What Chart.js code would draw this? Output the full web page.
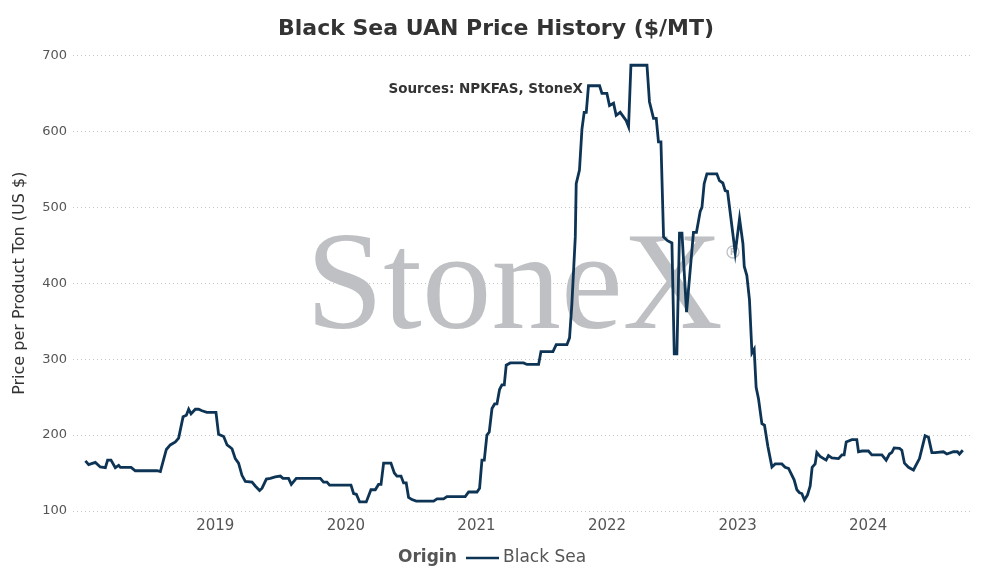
<!DOCTYPE html>
<html>
<head>
<meta charset="utf-8">
<title>Black Sea UAN Price History</title>
<script src="https://cdn.jsdelivr.net/npm/chart.js@4.4.1/dist/chart.umd.min.js"></script>
<style>
    html, body { margin: 0; padding: 0; background: #ffffff; }
    #wrap { width: 989px; height: 579px; position: relative; }
</style>
</head>
<body>
<div id="wrap"><canvas id="uanChart"></canvas></div>
<script>
// -------------------------------------------------
// Data (decimal years / $ per MT)
// -------------------------------------------------
const dates = [
    2018.005, 2018.030, 2018.081, 2018.119, 2018.158, 2018.175, 2018.201, 2018.234, 2018.260, 2018.273,
    2018.355, 2018.387, 2018.554, 2018.579, 2018.625, 2018.655, 2018.694, 2018.719, 2018.753, 2018.778,
    2018.796, 2018.814, 2018.847, 2018.872, 2018.898, 2018.936, 2019.005, 2019.025, 2019.064, 2019.090,
    2019.128, 2019.153, 2019.178, 2019.204, 2019.230, 2019.281, 2019.306, 2019.339, 2019.358, 2019.391,
    2019.421, 2019.459, 2019.498, 2019.518, 2019.561, 2019.582, 2019.620, 2019.804, 2019.829, 2019.855,
    2019.875, 2020.039, 2020.059, 2020.080, 2020.105, 2020.156, 2020.192, 2020.225, 2020.250, 2020.269,
    2020.289, 2020.345, 2020.371, 2020.391, 2020.422, 2020.442, 2020.462, 2020.480, 2020.506, 2020.539,
    2020.672, 2020.698, 2020.748, 2020.774, 2020.914, 2020.940, 2021.004, 2021.024, 2021.042, 2021.060,
    2021.080, 2021.098, 2021.119, 2021.139, 2021.157, 2021.177, 2021.195, 2021.213, 2021.228, 2021.259,
    2021.361, 2021.387, 2021.476, 2021.494, 2021.586, 2021.611, 2021.693, 2021.713, 2021.731, 2021.757,
    2021.764, 2021.789, 2021.808, 2021.825, 2021.841, 2021.858, 2021.943, 2021.961, 2021.999, 2022.019,
    2022.050, 2022.070, 2022.101, 2022.122, 2022.147, 2022.165, 2022.183, 2022.306, 2022.325, 2022.356,
    2022.377, 2022.394, 2022.413, 2022.433, 2022.463, 2022.497, 2022.515, 2022.535, 2022.555, 2022.574,
    2022.609, 2022.662, 2022.685, 2022.714, 2022.727, 2022.744, 2022.765, 2022.841, 2022.861, 2022.887,
    2022.905, 2022.923, 2022.982, 2023.015, 2023.041, 2023.051, 2023.071, 2023.091, 2023.110, 2023.127,
    2023.142, 2023.160, 2023.186, 2023.206, 2023.232, 2023.263, 2023.288, 2023.339, 2023.364, 2023.390,
    2023.408, 2023.433, 2023.454, 2023.474, 2023.492, 2023.512, 2023.535, 2023.556, 2023.571, 2023.594,
    2023.607, 2023.632, 2023.678, 2023.696, 2023.722, 2023.773, 2023.799, 2023.816, 2023.832, 2023.875,
    2023.913, 2023.926, 2023.952, 2024.002, 2024.028, 2024.105, 2024.138, 2024.163, 2024.181, 2024.199,
    2024.240, 2024.258, 2024.278, 2024.309, 2024.347, 2024.393, 2024.436, 2024.462, 2024.488, 2024.513,
    2024.576, 2024.603, 2024.653, 2024.684, 2024.699, 2024.725
];

const prices = [
    166, 161, 164, 158, 157, 167, 167, 157, 160, 157.5,
    157.5, 153, 153, 152, 181, 187, 191, 196, 224, 226,
    234, 228, 234, 234, 232, 230, 230, 201, 198, 187,
    182, 169, 163, 147, 139, 138, 133, 127, 130, 142,
    143, 145, 146, 143, 143, 135, 143, 143, 138, 138,
    134, 134, 123, 122, 112, 112, 128, 128, 135, 135,
    163, 163, 150, 146, 146, 137, 137, 118, 115, 113,
    113, 116, 116, 119, 119, 125, 125, 130, 167, 167,
    200, 204, 235, 241, 241, 260, 266, 266, 292, 295,
    295, 293, 293, 310, 310, 319, 319, 328, 373, 461,
    531, 549, 603, 625, 625, 660, 660, 650, 650, 634,
    637, 621, 625, 620, 614, 606, 687, 687, 639, 617,
    617, 586, 586, 461, 456, 453, 307, 307, 466, 466,
    362, 467, 467, 495, 500, 531, 544, 544, 535, 532,
    522, 521, 440, 485, 452, 422, 410, 378, 308, 313,
    263, 248, 215, 213, 185, 158, 162, 162, 157.5, 156,
    150, 141, 128, 124, 123, 114.5, 121, 133, 157.5, 162,
    177, 172, 167, 173, 170, 169, 174, 174, 191, 194,
    194, 178, 179, 179, 174, 174, 167, 175, 177, 183,
    182.5, 180, 163, 157.5, 154, 169, 199, 197, 177, 177,
    178, 175, 178, 178, 175, 180
];

const yearTicks = [2019, 2020, 2021, 2022, 2023, 2024];
const seriesName = 'Black Sea';
const lineColor = '#0d3455';

/* -------------------------------------------------
    PLUGIN: StoneX watermark behind the line
------------------------------------------------- */
const watermark = {
    id: 'watermark',
    beforeDatasetsDraw(chart) {
        const ctx = chart.ctx;
        ctx.save();
        ctx.fillStyle = '#bfc0c3';
        ctx.font = '139px "Liberation Serif", serif';
        ctx.textBaseline = 'alphabetic';
        ctx.textAlign = 'left';
        ctx.fillText('StoneX', 306, 328);
        // registered mark
        ctx.strokeStyle = '#bfc0c3';
        ctx.lineWidth = 1.3;
        ctx.beginPath();
        ctx.arc(733, 252, 6, 0, Math.PI * 2);
        ctx.stroke();
        ctx.font = 'bold 8px "DejaVu Sans", sans-serif';
        ctx.textAlign = 'center';
        ctx.textBaseline = 'middle';
        ctx.fillText('R', 733, 252.5);
        ctx.restore();
    }
};

/* -------------------------------------------------
    PLUGIN: sources note and inline legend
------------------------------------------------- */
const notes = {
    id: 'notes',
    afterDraw(chart) {
        const ctx = chart.ctx;
        ctx.save();
        ctx.fillStyle = '#333333';
        ctx.font = 'bold 13.5px "DejaVu Sans", sans-serif';
        ctx.textAlign = 'right';
        ctx.textBaseline = 'middle';
        ctx.fillText('Sources: NPKFAS, StoneX', 583, 89);

        // legend: "Origin" —— Black Sea
        const y = 558;
        ctx.textAlign = 'left';
        ctx.fillStyle = '#555555';
        ctx.font = 'bold 17px "DejaVu Sans", sans-serif';
        ctx.fillText('Origin', 398, y);
        ctx.strokeStyle = lineColor;
        ctx.lineWidth = 2.6;
        ctx.beginPath();
        ctx.moveTo(466, y);
        ctx.lineTo(499, y);
        ctx.stroke();
        ctx.font = '17px "DejaVu Sans", sans-serif';
        ctx.fillText(seriesName, 503, y);
        ctx.restore();
    }
};

document.addEventListener('DOMContentLoaded', () => {
    const ctx = document.getElementById('uanChart').getContext('2d');
    new Chart(ctx, {
        type: 'line',
        data: {
            datasets: [{
                label: seriesName,
                data: dates.map((d, i) => ({ x: d, y: prices[i] })),
                borderColor: lineColor,
                backgroundColor: lineColor,
                borderWidth: 2.8,
                pointRadius: 0,
                tension: 0,
                fill: false
            }]
        },
        options: {
            responsive: true,
            maintainAspectRatio: false,
            animation: false,
            layout: { padding: { left: 22, right: 19, top: 0, bottom: 38 } },
            plugins: {
                legend: { display: false },
                tooltip: { enabled: false },
                title: {
                    display: true,
                    text: 'Black Sea UAN Price History ($/MT)',
                    color: '#333333',
                    font: { family: '"DejaVu Sans", sans-serif', size: 22, weight: 'bold' },
                    padding: { top: 16, bottom: 13 }
                }
            },
            scales: {
                x: {
                    type: 'linear',
                    min: 2017.91,
                    max: 2024.78,
                    grid: { display: false, drawTicks: false },
                    border: { display: false },
                    afterBuildTicks: axis => {
                        axis.ticks = yearTicks.map(v => ({ value: v }));
                    },
                    afterFit: axis => { axis.height = 30; },
                    ticks: {
                        color: '#555555',
                        padding: 6,
                        maxRotation: 0,
                        font: { family: '"DejaVu Sans", sans-serif', size: 15 },
                        callback: v => String(v)
                    }
                },
                y: {
                    min: 100,
                    max: 700,
                    afterFit: axis => { axis.width = 51; },
                    grid: {
                        color: '#c4c4c4',
                        lineWidth: 1,
                        drawTicks: false
                    },
                    border: { display: false, dash: [1, 3] },
                    ticks: {
                        stepSize: 100,
                        color: '#555555',
                        padding: 6,
                        font: { family: '"DejaVu Sans", sans-serif', size: 13 }
                    },
                    title: {
                        display: true,
                        text: 'Price per Product Ton (US $)',
                        color: '#333333',
                        font: { family: '"DejaVu Sans", sans-serif', size: 16 },
                        padding: { top: -11.6, bottom: 0 }
                    }
                }
            }
        },
        plugins: [watermark, notes]
    });
});
</script>
</body>
</html>
